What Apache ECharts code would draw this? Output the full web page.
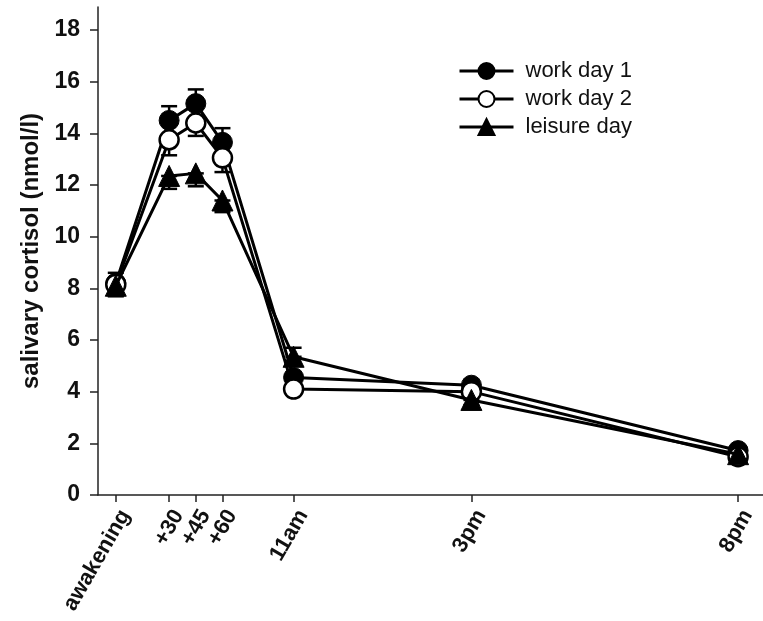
<!DOCTYPE html>
<html>
<head>
<meta charset="utf-8">
<script src="https://cdn.jsdelivr.net/npm/echarts@6/dist/echarts.min.js"></script>
<style>
  html, body { margin: 0; padding: 0; background: #fff; }
  #chart-container { width: 763px; height: 621px; }
</style>
</head>
<body>
<div id="chart-container"></div>
<script>
// Sampling times placed on an arbitrary (non-linear) position scale
const timeLabels = ['awakening', '+30', '+45', '+60', '11am', '3pm', '8pm'];
const timePos = [0, 30, 45, 60, 100, 200, 350];
const yTicks = [0, 2, 4, 6, 8, 10, 12, 14, 16, 18];

// Mean salivary cortisol (nmol/l)
const workDay1 = [8.2, 14.5, 15.15, 13.65, 4.55, 4.25, 1.72];
const workDay2 = [8.15, 13.75, 14.4, 13.05, 4.1, 4.0, 1.48];
const leisureDay = [8.1, 12.35, 12.45, 11.4, 5.35, 3.68, 1.58];

// Error bars (shown one-sided, as in the figure)
const workDay1Up = [0.4, 0.55, 0.55, 0.55, 0.2, 0.2, 0.15];
const workDay1Down = [0, 0, 0, 0, 0, 0, 0];
const workDay2Up = [0, 0, 0, 0, 0, 0, 0];
const workDay2Down = [0.45, 0.6, 0.5, 0.55, 0.2, 0.2, 0.15];
const leisureUp = [0, 0, 0, 0, 0.35, 0, 0];
const leisureDown = [0.4, 0.5, 0.5, 0.45, 0, 0.2, 0.15];

const font = 'Arial, "Liberation Sans", sans-serif';

function pairs(values) {
  return values.map((v, i) => [timePos[i], v]);
}

function errData(values, up, down) {
  return values.map((v, i) => [timePos[i], v - down[i], v + up[i]]);
}

function errorSeries(values, up, down, z) {
  return {
    type: 'custom',
    z: z,
    silent: true,
    data: errData(values, up, down),
    renderItem: function (params, api) {
      const x = api.value(0);
      const lo = api.coord([x, api.value(1)]);
      const hi = api.coord([x, api.value(2)]);
      const half = 8;
      const style = { stroke: '#000', lineWidth: 2.5 };
      return {
        type: 'group',
        children: [
          { type: 'line', shape: { x1: lo[0], y1: lo[1], x2: hi[0], y2: hi[1] }, style: style },
          { type: 'line', shape: { x1: hi[0] - half, y1: hi[1], x2: hi[0] + half, y2: hi[1] }, style: style },
          { type: 'line', shape: { x1: lo[0] - half, y1: lo[1], x2: lo[0] + half, y2: lo[1] }, style: style }
        ]
      };
    }
  };
}

const chart = echarts.init(document.getElementById('chart-container'));
chart.setOption({
  animation: false,
  textStyle: { fontFamily: font },
  grid: { left: 98, right: 0, top: 7, bottom: 126 },
  legend: {
    left: 453,
    top: 55,
    orient: 'vertical',
    itemWidth: 54,
    itemHeight: 20,
    itemGap: 6,
    lineStyle: { width: 3 },
    textStyle: { fontFamily: font, fontSize: 22, color: '#111', padding: [0, 0, 0, 7] },
    data: ['work day 1', 'work day 2', 'leisure day']
  },
  xAxis: {
    type: 'value',
    min: -10,
    max: 364,
    splitLine: { show: false },
    axisLine: { onZero: false, lineStyle: { color: '#222', width: 1.5 } },
    axisTick: { customValues: timePos, length: 7, lineStyle: { color: '#222', width: 1.5 } },
    axisLabel: {
      customValues: timePos,
      rotate: 60,
      margin: 11,
      verticalAlign: 'top',
      color: '#111',
      fontWeight: 'bold',
      fontSize: 22,
      fontFamily: font,
      formatter: (v) => timeLabels[timePos.indexOf(v)]
    }
  },
  yAxis: {
    type: 'value',
    min: 0,
    max: 18.89,
    interval: 2,
    name: 'salivary cortisol (nmol/l)',
    nameLocation: 'middle',
    nameGap: 42,
    nameTextStyle: { fontWeight: 'bold', fontSize: 24, color: '#111', fontFamily: font },
    splitLine: { show: false },
    axisLine: { show: true, onZero: false, lineStyle: { color: '#222', width: 1.5 } },
    axisTick: { show: true, customValues: yTicks, length: 8, lineStyle: { color: '#222', width: 1.5 } },
    axisLabel: {
      customValues: yTicks,
      margin: 18,
      color: '#111',
      fontWeight: 'bold',
      fontSize: 23,
      fontFamily: font
    }
  },
  series: [
    errorSeries(workDay1, workDay1Up, workDay1Down, 1),
    errorSeries(workDay2, workDay2Up, workDay2Down, 1),
    errorSeries(leisureDay, leisureUp, leisureDown, 1),
    {
      name: 'work day 1',
      type: 'line',
      z: 2,
      data: pairs(workDay1),
      symbol: 'circle',
      symbolSize: 20,
      lineStyle: { color: '#000', width: 3 },
      itemStyle: { color: '#000', borderColor: '#000', borderWidth: 1 }
    },
    {
      name: 'work day 2',
      type: 'line',
      z: 3,
      data: pairs(workDay2),
      symbol: 'circle',
      symbolSize: 19,
      lineStyle: { color: '#000', width: 3 },
      itemStyle: { color: '#fff', borderColor: '#000', borderWidth: 2.5 }
    },
    {
      name: 'leisure day',
      type: 'line',
      z: 4,
      data: pairs(leisureDay),
      symbol: 'triangle',
      symbolSize: 21,
      lineStyle: { color: '#000', width: 3 },
      itemStyle: { color: '#000', borderColor: '#000', borderWidth: 1 }
    }
  ]
});
</script>
</body>
</html>
